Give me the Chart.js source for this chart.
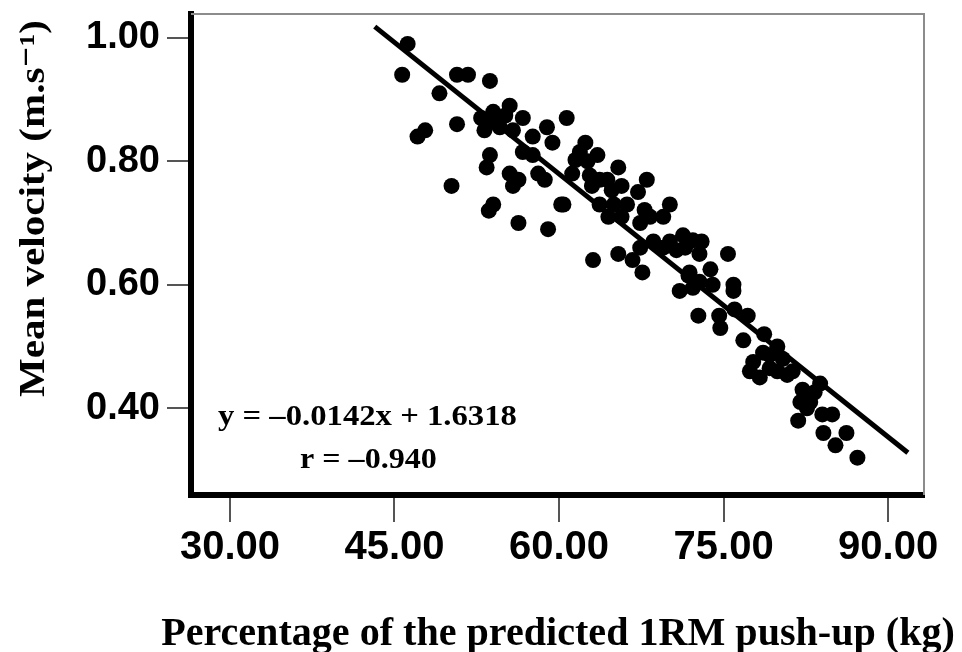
<!DOCTYPE html>
<html>
<head>
<meta charset="utf-8">
<script src="https://cdn.jsdelivr.net/npm/chart.js@4.4.1/dist/chart.umd.min.js"></script>
<style>
  html, body { margin: 0; padding: 0; background: #fff; }
  #wrap { width: 962px; height: 652px; }
</style>
</head>
<body>
<div id="wrap"><canvas id="chart" width="962" height="652"></canvas></div>
<script>
// percentage of predicted 1RM (x) and mean velocity (y)
const pct = [
  46.2, 45.7, 49.1, 50.7, 51.7, 53.7, 47.1, 47.8, 50.7, 50.2,
  52.9, 54.0, 55.5, 53.2, 54.6, 54.3, 56.7, 55.8, 57.6, 58.9,
  59.4, 60.7, 53.7, 53.4, 55.5, 56.3, 55.8, 58.1, 58.7, 56.7,
  57.6, 54.0, 53.6, 56.3, 59.0, 60.2, 61.2, 55.1, 53.7,
  62.4, 61.9, 63.5, 62.6, 65.4, 63.7, 64.4, 68.0, 65.7, 67.2,
  63.0, 60.4, 63.7, 65.0, 66.2, 64.5, 65.7, 67.4, 68.3, 69.5,
  70.1, 67.4, 68.6, 69.5, 70.1, 71.3, 71.5, 73.0, 72.8, 75.4,
  63.1, 65.4, 66.7, 67.6, 71.0, 72.2, 71.9, 73.8, 74.0, 75.9,
  75.9, 71.8, 72.8, 61.5, 62.8, 64.8, 67.8, 72.2, 70.7,
  72.7, 74.6, 74.7, 76.0, 77.2, 76.8, 78.7, 79.9, 78.6, 80.4,
  81.3, 79.9, 78.3, 77.4, 77.7, 79.2, 82.2, 83.8, 82.0, 82.9,
  82.6, 81.8, 84.0, 84.9, 84.1, 86.2, 85.2, 87.2, 79.2, 80.8,
  83.3
];
const vel = [
  0.99, 0.94, 0.91, 0.94, 0.94, 0.93, 0.84, 0.85, 0.86, 0.76,
  0.87, 0.88, 0.89, 0.85, 0.855, 0.87, 0.87, 0.85, 0.84, 0.855,
  0.83, 0.87, 0.81, 0.79, 0.78, 0.77, 0.76, 0.78, 0.77, 0.815,
  0.81, 0.73, 0.72, 0.70, 0.69, 0.73, 0.78, 0.874, 0.863,
  0.83, 0.815, 0.81, 0.80, 0.79, 0.77, 0.77, 0.77, 0.76, 0.75,
  0.76, 0.73, 0.73, 0.73, 0.73, 0.71, 0.71, 0.70, 0.71, 0.71,
  0.73, 0.66, 0.67, 0.66, 0.67, 0.68, 0.66, 0.67, 0.65, 0.65,
  0.64, 0.65, 0.64, 0.62, 0.59, 0.595, 0.62, 0.625, 0.60, 0.60,
  0.59, 0.615, 0.605, 0.802, 0.777, 0.753, 0.721, 0.672, 0.656,
  0.55, 0.55, 0.53, 0.56, 0.55, 0.51, 0.52, 0.50, 0.49, 0.48,
  0.46, 0.46, 0.45, 0.46, 0.475, 0.465, 0.43, 0.44, 0.41, 0.41,
  0.40, 0.38, 0.39, 0.39, 0.36, 0.36, 0.34, 0.32, 0.486, 0.454,
  0.426
];

// fitted line end points
const fitX = [43.2, 91.8];
const fitY = [1.018, 0.328];

const xTicks = [30, 45, 60, 75, 90];
const yTicks = [0.40, 0.60, 0.80, 1.00];

const xTitle = "Percentage of the predicted 1RM push-up (kg)";
const yTitle = "Mean velocity (m.s\u207B\u00B9)";
const equationText = "y = \u20130.0142x + 1.6318";
const rText = "r = \u20130.940";

const serif = "'Liberation Serif', 'Times New Roman', 'DejaVu Serif', serif";

// text with a horizontal stretch factor, optionally rotated
function wideText(ctx, text, x, y, sx, rot) {
  ctx.save();
  ctx.translate(x, y);
  if (rot) ctx.rotate(rot);
  ctx.scale(sx, 1);
  ctx.fillText(text, 0, 0);
  ctx.restore();
}

const framePlugin = {
  id: "frame",
  afterDraw(chart) {
    const { ctx, chartArea: a } = chart;
    ctx.save();
    ctx.strokeStyle = "#8c8c8c";
    ctx.lineWidth = 2;
    ctx.beginPath();
    ctx.moveTo(a.left, a.top);
    ctx.lineTo(a.right, a.top);
    ctx.lineTo(a.right, a.bottom);
    ctx.stroke();

    ctx.fillStyle = "#000";
    ctx.textBaseline = "alphabetic";

    // equation annotation
    ctx.textAlign = "left";
    ctx.font = "bold 30px " + serif;
    wideText(ctx, equationText, a.left + 27, 425, 1.09);
    wideText(ctx, rText, a.left + 109, 468, 1.07);

    // axis titles
    ctx.font = "bold 41px " + serif;
    ctx.textAlign = "center";
    wideText(ctx, xTitle, 558, 645, 0.978);

    ctx.font = "bold 36px " + serif;
    ctx.textAlign = "left";
    wideText(ctx, yTitle, 44, 397, 1.14, -Math.PI / 2);
    ctx.restore();
  }
};

new Chart(document.getElementById("chart"), {
  type: "scatter",
  data: {
    datasets: [
      {
        data: pct.map((x, i) => ({ x: x, y: vel[i] })),
        backgroundColor: "#000",
        borderWidth: 0,
        pointRadius: 8,
        pointHoverRadius: 8
      },
      {
        type: "line",
        data: fitX.map((x, i) => ({ x: x, y: fitY[i] })),
        borderColor: "#000",
        borderWidth: 5,
        pointRadius: 0,
        fill: false
      }
    ]
  },
  plugins: [framePlugin],
  options: {
    responsive: false,
    devicePixelRatio: 1,
    animation: false,
    layout: { padding: { top: 14, right: 38, left: 0, bottom: 0 } },
    plugins: {
      legend: { display: false },
      tooltip: { enabled: false }
    },
    scales: {
      x: {
        type: "linear",
        min: 26.45,
        max: 93.27,
        afterBuildTicks: (scale) => {
          scale.ticks = xTicks.map((v) => ({ value: v }));
        },
        afterFit: (scale) => {
          scale.height = 157;
          scale.paddingLeft = 0;
          scale.paddingRight = 0;
        },
        border: { display: true, color: "#000", width: 6 },
        grid: {
          drawOnChartArea: false,
          drawTicks: true,
          tickLength: 27,
          color: "#555",
          lineWidth: 2
        },
        ticks: {
          color: "#000",
          padding: 2,
          maxRotation: 0,
          font: { family: "'Liberation Sans', Arial, sans-serif", size: 40, weight: "bold" },
          callback: (v) => v.toFixed(2)
        }
      },
      y: {
        type: "linear",
        min: 0.2596,
        max: 1.0384,
        afterBuildTicks: (scale) => {
          scale.ticks = yTicks.map((v) => ({ value: v }));
        },
        afterFit: (scale) => {
          scale.width = 191;
          scale.paddingTop = 0;
          scale.paddingBottom = 0;
        },
        border: { display: true, color: "#000", width: 6 },
        grid: {
          drawOnChartArea: false,
          drawTicks: true,
          tickLength: 24,
          color: "#555",
          lineWidth: 2
        },
        ticks: {
          color: "#000",
          padding: 7,
          font: { family: "'Liberation Sans', Arial, sans-serif", size: 38, weight: "bold" },
          callback: (v) => v.toFixed(2)
        }
      }
    }
  }
});
</script>
</body>
</html>
